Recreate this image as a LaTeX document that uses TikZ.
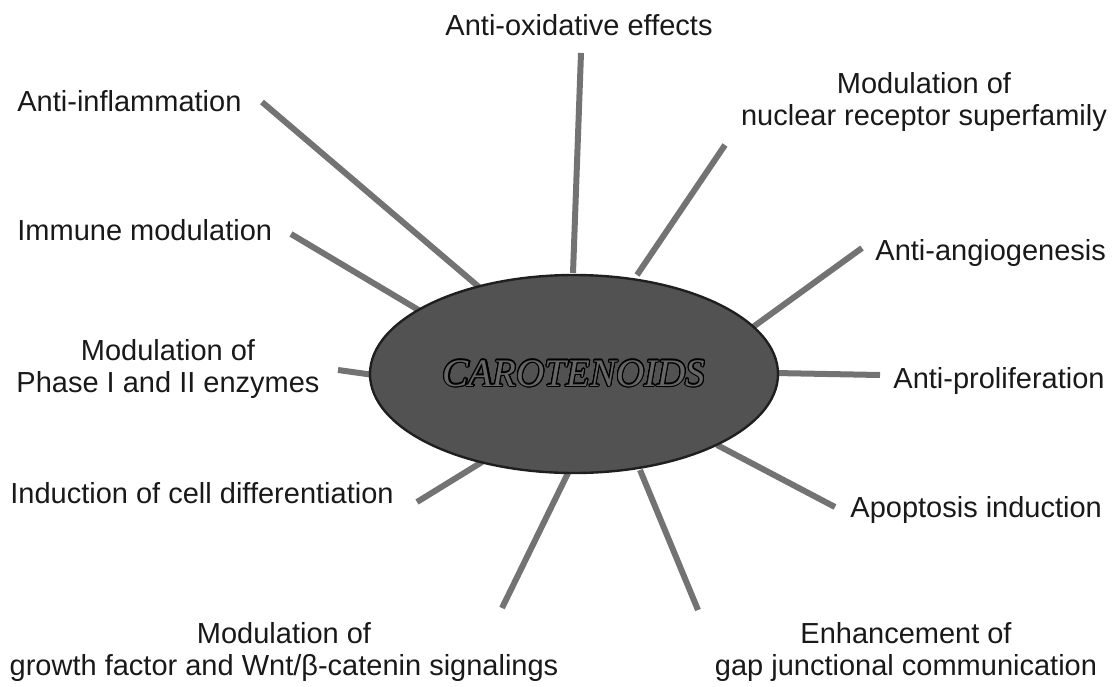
\documentclass[tikz,border=0pt]{standalone}
\usepackage{fontspec}
\setmainfont{Liberation Sans}
\newfontfamily\carfont{Liberation Serif}
\usepackage{contour}
\contourlength{0.6pt}
\usetikzlibrary{shapes.geometric}

\begin{document}
\begin{tikzpicture}[
			x=0.5pt, y=-0.5pt,
			ramo/.style={line width=3pt, draw=black!55, line cap=butt},
			nucleo/.style={ellipse, fill=black!68, draw=black!88,
				line width=1.2pt, inner sep=0pt,
				minimum width=204pt, minimum height=99pt},
			etich/.style={font=\fontsize{14.5}{16}\selectfont,
				inner sep=0pt, align=center, text=black!90}]
			\useasboundingbox (0,0) rectangle (1113,686);
			
			%% estremi dei raggi
			\coordinate (oxiA) at (581,53);    \coordinate (oxiB) at (573,273);
			\coordinate (nucA) at (725,145);   \coordinate (nucB) at (637,275);
			\coordinate (angA) at (862,248);   \coordinate (angB) at (753,327);
			\coordinate (proA) at (880,375);   \coordinate (proB) at (775,373);
			\coordinate (apoA) at (835,507);   \coordinate (apoB) at (717,445);
			\coordinate (gapA) at (698,610);   \coordinate (gapB) at (640,470);
			\coordinate (wntA) at (502,608);   \coordinate (wntB) at (568,473);
			\coordinate (difA) at (417,502);   \coordinate (difB) at (482,462);
			\coordinate (phaA) at (338,370);   \coordinate (phaB) at (374,375);
			\coordinate (immA) at (291,234);   \coordinate (immB) at (432,318);
			\coordinate (infA) at (262,102);   \coordinate (infB) at (486,293);
			
			%% raggi
			\draw[ramo] (oxiA) -- (oxiB);
			\draw[ramo] (nucA) -- (nucB);
			\draw[ramo] (angA) -- (angB);
			\draw[ramo] (proA) -- (proB);
			\draw[ramo] (apoA) -- (apoB);
			\draw[ramo] (gapA) -- (gapB);
			\draw[ramo] (wntA) -- (wntB);
			\draw[ramo] (difA) -- (difB);
			\draw[ramo] (phaA) -- (phaB);
			\draw[ramo] (immA) -- (immB);
			\draw[ramo] (infA) -- (infB);
			
			%% nucleo centrale
			\node[nucleo] (car) at (574,374)
				{\fontsize{19.5}{19.5}\selectfont\carfont\itshape
					\contour{black}{\textcolor{black!60}{CAROTENOIDS}}};
			
			%% etichette
			\node[etich, anchor=base] (oxi) at (579,35) {Anti-oxidative effects};
			\node[etich, anchor=north] (nuc) at (924,72)
				{Modulation of\\nuclear receptor superfamily};
			\node[etich, anchor=base west] (ang) at (875,260) {Anti-angiogenesis};
			\node[etich, anchor=base west] (pro) at (893,388) {Anti-proliferation};
			\node[etich, anchor=base west] (apo) at (850,517) {Apoptosis induction};
			\node[etich, anchor=north] (gap) at (906,622)
				{Enhancement of\\gap junctional communication};
			\node[etich, anchor=north] (wnt) at (284,622)
				{Modulation of\\growth factor and Wnt/β-catenin signalings};
			\node[etich, anchor=base west] (dif) at (10,503)
				{Induction of cell differentiation};
			\node[etich, anchor=north] (pha) at (168,339)
				{Modulation of\\Phase I and II enzymes};
			\node[etich, anchor=base west] (imm) at (17,240) {Immune modulation};
			\node[etich, anchor=base west] (inf) at (17,111) {Anti-inflammation};
		\end{tikzpicture}
\end{document}
